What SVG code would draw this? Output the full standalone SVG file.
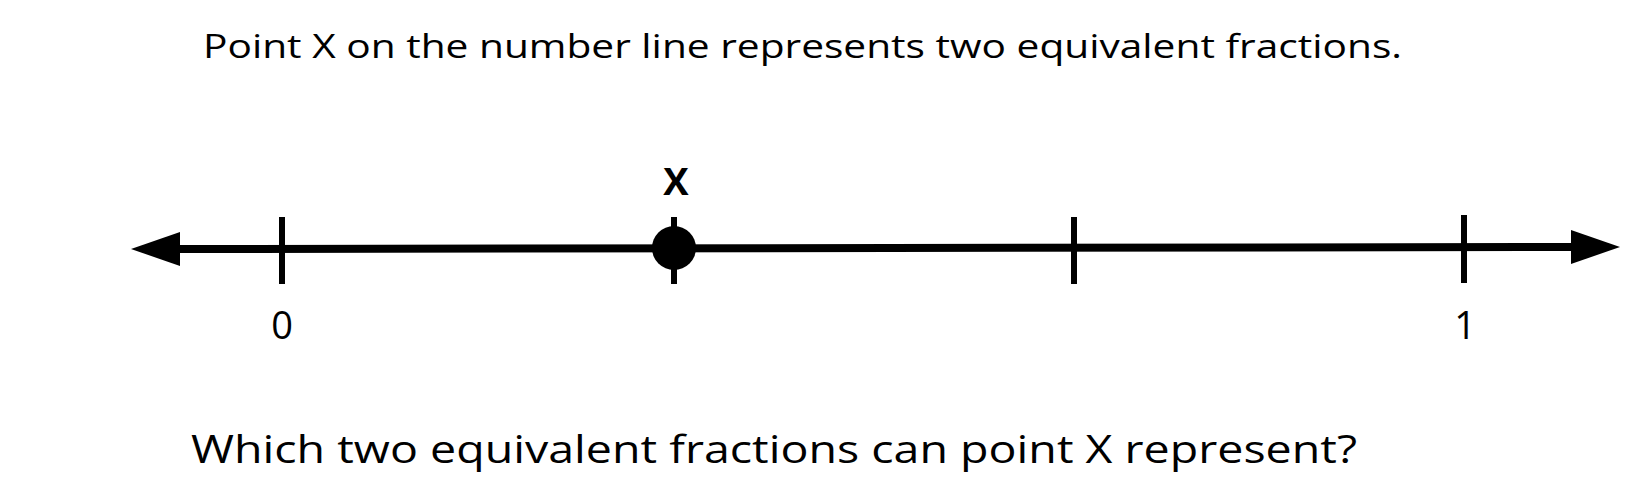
<svg xmlns="http://www.w3.org/2000/svg" width="1649" height="502" viewBox="0 0 1649 502">
<style>
.t{font-family:"Open Sans","Liberation Sans",sans-serif;fill:#000}
.tick{stroke:#000;stroke-width:6}
</style>
<rect width="1649" height="502" fill="#fff"/>
<text class="t" x="203" y="58" font-size="33" textLength="1199" lengthAdjust="spacingAndGlyphs">Point X on the number line represents two equivalent fractions.</text>
<g id="connectors">
<line x1="170" y1="249" x2="1582" y2="247" stroke="#000" stroke-width="8"/>
<polygon points="131,249 180,232 180,266"/>
<polygon points="1620,247 1571,230 1571,264"/>
</g>
<g id="tick0"><line class="tick" x1="282" y1="217" x2="282" y2="284"/><text class="t" x="282" y="339" font-size="38" text-anchor="middle">0</text></g>
<g id="pointX"><line class="tick" x1="674" y1="217" x2="674" y2="284"/><circle cx="674" cy="248" r="22"/><text class="t" x="676" y="195" font-size="38" font-weight="700" text-anchor="middle">X</text></g>
<g id="tick2"><line class="tick" x1="1074" y1="217" x2="1074" y2="284"/></g>
<g id="tick1"><line class="tick" x1="1464" y1="215" x2="1464" y2="283"/><text class="t" x="1465" y="339" font-size="38" text-anchor="middle">1</text></g>
<text class="t" x="191" y="463" font-size="39" textLength="1166" lengthAdjust="spacingAndGlyphs">Which two equivalent fractions can point X represent?</text>
</svg>
